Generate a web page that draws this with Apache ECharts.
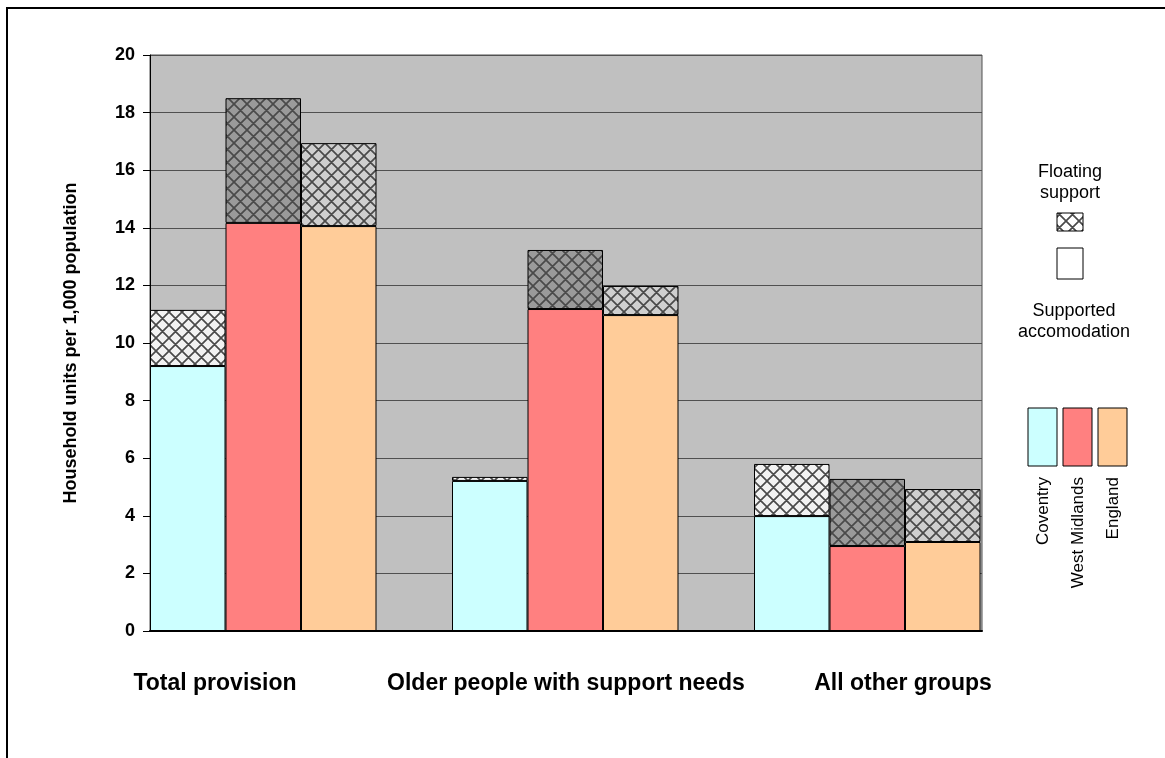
<!DOCTYPE html>
<html>
<head>
<meta charset="utf-8">
<title>Supported housing provision</title>
<script src="https://cdn.jsdelivr.net/npm/echarts@6/dist/echarts.min.js"></script>
<style>
  html, body { margin: 0; padding: 0; background: #ffffff; }
  #chart { width: 1165px; height: 758px; }
</style>
</head>
<body>
<div id="chart"></div>
<script>
// Household units per 1,000 population, by client group
const categories = ['Total provision', 'Older people with support needs', 'All other groups'];
const areas = ['Coventry', 'West Midlands', 'England'];

// Supported accommodation (lower part of each bar)
const coventrySupported = [9.2, 5.21, 3.99];
const westMidlandsSupported = [14.17, 11.18, 2.95];
const englandSupported = [14.06, 10.97, 3.09];

// Floating support (upper part of each bar)
const coventryFloating = [1.95, 0.14, 1.81];
const westMidlandsFloating = [4.33, 2.05, 2.33];
const englandFloating = [2.88, 1.01, 1.84];

const yTicks = [0, 2, 4, 6, 8, 10, 12, 14, 16, 18, 20];

const FONT = 'Arial, "Liberation Sans", Helvetica, sans-serif';

// Cross-hatched fill used for the floating support segments
function hatch(bg) {
  const s = 13;
  const c = document.createElement('canvas');
  c.width = s; c.height = s;
  const ctx = c.getContext('2d');
  ctx.fillStyle = bg;
  ctx.fillRect(0, 0, s, s);
  ctx.strokeStyle = '#4a4a4a';
  ctx.lineWidth = 1.7;
  ctx.beginPath();
  for (const dx of [-s, 0, s]) {
    ctx.moveTo(dx, 0); ctx.lineTo(dx + s, s);
    ctx.moveTo(dx + s, 0); ctx.lineTo(dx, s);
  }
  ctx.stroke();
  return { image: c, repeat: 'repeat' };
}

// Plot frame (grid 0) and the cluster layout (grid 1): each cluster is
// three bars plus one empty bar-width slot; the last slot runs past the frame.
const PLOT_L = 150, PLOT_T = 55, PLOT_W = 832, PLOT_H = 576;
const BAR_W = 75.5;
const SLOT_W = BAR_W * 4;

const border = { borderColor: '#000', borderWidth: 1 };

function bar(name, stack, data, color) {
  return {
    name: name, type: 'bar', stack: stack, data: data,
    xAxisIndex: 1, yAxisIndex: 1,
    barWidth: BAR_W, barGap: '0%',
    itemStyle: Object.assign({ color: color }, border),
    emphasis: { disabled: true }
  };
}

const series = [
  bar('Coventry supported', 'cov', coventrySupported, '#CCFFFF'),
  bar('Coventry floating', 'cov', coventryFloating, hatch('#F2F2F2')),
  bar('West Midlands supported', 'wm', westMidlandsSupported, '#FF8080'),
  bar('West Midlands floating', 'wm', westMidlandsFloating, hatch('#9A9A9A')),
  bar('England supported', 'eng', englandSupported, '#FFCC99'),
  bar('England floating', 'eng', englandFloating, hatch('#CFCFCF')),
  // empty slot that leaves the spacing on the right of each cluster
  { name: 'spacer', type: 'bar', stack: 'spacer', data: ['-', '-', '-'],
    xAxisIndex: 1, yAxisIndex: 1, barWidth: BAR_W, barGap: '0%', silent: true }
];

const legendColors = ['#CCFFFF', '#FF8080', '#FFCC99'];
const legendX = [1028, 1063, 1098];

const graphics = [
  { type: 'rect', shape: { x: 7, y: 8, width: 1200, height: 800 },
    style: { fill: 'none', stroke: '#000', lineWidth: 2 }, z: -1 },
  { type: 'text', x: 1070, y: 183, style: { text: 'Floating\nsupport', font: '18px ' + FONT,
    fill: '#000', align: 'center', verticalAlign: 'middle', lineHeight: 21 } },
  { type: 'rect', shape: { x: 1057, y: 213, width: 26, height: 18 },
    style: { fill: hatch('#FFFFFF'), stroke: '#000', lineWidth: 1 } },
  { type: 'rect', shape: { x: 1057, y: 248, width: 26, height: 31 },
    style: { fill: '#FFFFFF', stroke: '#000', lineWidth: 1 } },
  { type: 'text', x: 1074, y: 322, style: { text: 'Supported\naccomodation', font: '18px ' + FONT,
    fill: '#000', align: 'center', verticalAlign: 'middle', lineHeight: 21 } }
];
areas.forEach((a, i) => {
  graphics.push({ type: 'rect', shape: { x: legendX[i], y: 408, width: 29, height: 58 },
    style: { fill: legendColors[i], stroke: '#000', lineWidth: 1 } });
  graphics.push({ type: 'text', x: legendX[i] + 15, y: 477, rotation: Math.PI / 2,
    style: { text: a, font: '17px ' + FONT, fill: '#000', align: 'right', verticalAlign: 'middle' } });
});

const labelStyle = { fontFamily: FONT, fontWeight: 'bold', fontSize: 23, color: '#000' };

const chart = echarts.init(document.getElementById('chart'), null, { renderer: 'canvas' });
chart.setOption({
  animation: false,
  backgroundColor: '#ffffff',
  grid: [
    { left: PLOT_L, top: PLOT_T, width: PLOT_W, height: PLOT_H, show: true,
      backgroundColor: '#C0C0C0', borderColor: '#505050', borderWidth: 1 },
    { left: PLOT_L, top: PLOT_T, width: SLOT_W * categories.length, height: PLOT_H }
  ],
  xAxis: [
    {
      gridIndex: 0, type: 'category', data: categories,
      axisLine: { lineStyle: { color: '#000', width: 2 } },
      axisTick: { show: false }, axisLabel: { show: false }, z: 5
    },
    {
      gridIndex: 1, type: 'category', data: categories,
      axisLine: { show: false }, axisTick: { show: false },
      axisLabel: {
        interval: 0, margin: 41,
        formatter: (v, i) => '{c' + i + '|' + v + '}',
        rich: {
          c0: Object.assign({ padding: [0, 172, 0, 0] }, labelStyle),
          c1: Object.assign({ padding: [0, 74, 0, 0] }, labelStyle),
          c2: Object.assign({ padding: [0, 4, 0, 0] }, labelStyle)
        }
      }
    }
  ],
  yAxis: [
    {
      gridIndex: 0, type: 'value', min: 0, max: 20, interval: 2,
      name: 'Household units per 1,000 population',
      nameLocation: 'middle', nameGap: 70, nameRotate: 90,
      nameTextStyle: { fontFamily: FONT, fontWeight: 'bold', fontSize: 18, color: '#000' },
      axisLine: { show: true, lineStyle: { color: '#000', width: 1 } },
      axisTick: { show: true, length: 7, lineStyle: { color: '#000' } },
      axisLabel: {
        margin: 15, fontFamily: FONT, fontWeight: 'bold', fontSize: 18, color: '#000',
        formatter: v => (yTicks.indexOf(v) >= 0 ? String(v) : '')
      },
      splitLine: { show: true, lineStyle: { color: '#505050', width: 1 } }
    },
    {
      gridIndex: 1, type: 'value', min: 0, max: 20, interval: 2, show: false,
      splitLine: { show: false }
    }
  ],
  series: series,
  graphic: graphics
});
</script>
</body>
</html>
